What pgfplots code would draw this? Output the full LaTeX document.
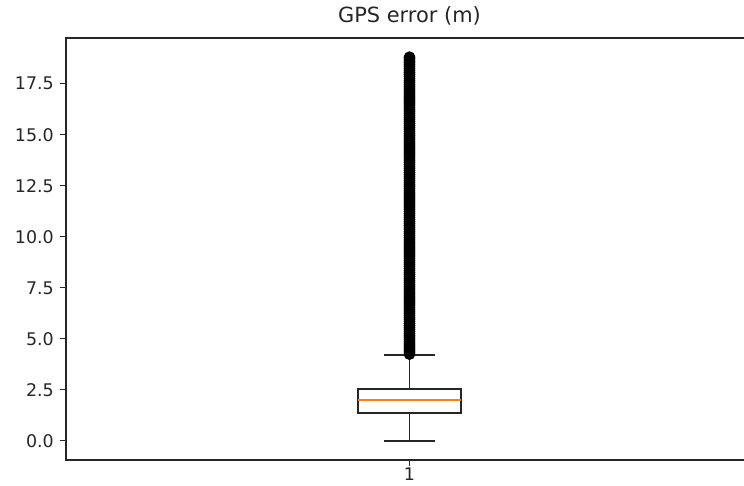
\documentclass[border=0pt]{standalone}
\usepackage{fontspec}
\setmainfont{DejaVu Sans}
\usepackage{pgfplots}
\pgfplotsset{compat=1.18}
\usepgfplotslibrary{statistics}

\definecolor{mplorange}{HTML}{FF7F0E}

\begin{document}
\begin{tikzpicture}
\begin{axis}[
  scale only axis,
  width=687bp, height=422bp,
  at={(0,0)}, anchor=south west,
  xmin=0.5, xmax=1.5,
  ymin=-0.94, ymax=19.74,
  xtick={1}, xticklabels={1},
  ytick={0,2.5,5,7.5,10,12.5,15,17.5},
  yticklabel style={xshift=-6bp,
    /pgf/number format/fixed,
    /pgf/number format/fixed zerofill,
    /pgf/number format/precision=1},
  /pgf/number format/assume math mode=true,
  tick align=outside,
  xtick pos=bottom, ytick pos=left,
  major tick length=6bp,
  tick style={black!85, line width=1.3bp},
  axis line style={line width=1.3bp, black!85},
  ticklabel style={font=\fontsize{17.5}{20}\selectfont, text=black!85, inner sep=0pt},
  xticklabel style={yshift=-2bp},
  title={GPS error (m)},
  title style={font=\fontsize{21}{24}\selectfont, text=black!85,
    at={(axis description cs:0.5,1)}, anchor=base, yshift=10bp, inner sep=0pt},
  clip=false,
  boxplot/draw direction=y,
  boxplot/every box/.style={draw=black!85, line width=1.7bp},
  boxplot/every whisker/.style={draw=black!85, line width=1.7bp},
  boxplot/every median/.style={draw=mplorange, line width=1.7bp},
]
% box statistics and the points beyond the upper whisker
\addplot[
  black!85, line width=1.7bp,
  mark=*, mark size=5.6bp,
  mark options={fill=black, draw=black, line width=0.5bp},
  boxplot prepared={
    draw position=1,
    box extend=0.15,
    whisker extend=0.075,
    lower whisker=0.0,
    lower quartile=1.36,
    median=2.0,
    upper quartile=2.54,
    upper whisker=4.21,
  },
] table[row sep=\\, y index=0] {
err\\
4.25\\ 4.35\\ 4.45\\ 4.55\\ 4.65\\ 4.75\\ 4.85\\ 4.95\\ 5.05\\ 5.15\\
5.25\\ 5.35\\ 5.45\\ 5.55\\ 5.65\\ 5.75\\ 5.85\\ 5.95\\ 6.05\\ 6.15\\
6.25\\ 6.35\\ 6.45\\ 6.55\\ 6.65\\ 6.75\\ 6.85\\ 6.95\\ 7.05\\ 7.15\\
7.25\\ 7.35\\ 7.45\\ 7.55\\ 7.65\\ 7.75\\ 7.85\\ 7.95\\ 8.05\\ 8.15\\
8.25\\ 8.35\\ 8.45\\ 8.55\\ 8.65\\ 8.75\\ 8.85\\ 8.95\\ 9.05\\ 9.15\\
9.25\\ 9.35\\ 9.45\\ 9.55\\ 9.65\\ 9.75\\ 9.85\\ 9.95\\ 10.05\\ 10.15\\
10.25\\ 10.35\\ 10.45\\ 10.55\\ 10.65\\ 10.75\\ 10.85\\ 10.95\\ 11.05\\ 11.15\\
11.25\\ 11.35\\ 11.45\\ 11.55\\ 11.65\\ 11.75\\ 11.85\\ 11.95\\ 12.05\\ 12.15\\
12.25\\ 12.35\\ 12.45\\ 12.55\\ 12.65\\ 12.75\\ 12.85\\ 12.95\\ 13.05\\ 13.15\\
13.25\\ 13.35\\ 13.45\\ 13.55\\ 13.65\\ 13.75\\ 13.85\\ 13.95\\ 14.05\\ 14.15\\
14.25\\ 14.35\\ 14.45\\ 14.55\\ 14.65\\ 14.75\\ 14.85\\ 14.95\\ 15.05\\ 15.15\\
15.25\\ 15.35\\ 15.45\\ 15.55\\ 15.65\\ 15.75\\ 15.85\\ 15.95\\ 16.05\\ 16.15\\
16.25\\ 16.35\\ 16.45\\ 16.55\\ 16.65\\ 16.75\\ 16.85\\ 16.95\\ 17.05\\ 17.15\\
17.25\\ 17.35\\ 17.45\\ 17.55\\ 17.65\\ 17.75\\ 17.85\\ 17.95\\ 18.05\\ 18.15\\
18.25\\ 18.35\\ 18.45\\ 18.55\\ 18.65\\ 18.75\\ 18.80\\
};
\end{axis}
% frame of the figure: the right part of the axes box lies outside it
\pgfresetboundingbox
\path[use as bounding box] (-66bp,-26bp) rectangle (678bp,460bp);
\end{tikzpicture}
\end{document}
